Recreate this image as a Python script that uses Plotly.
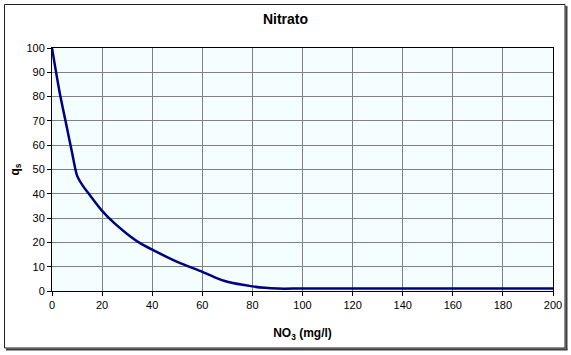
import plotly.graph_objects as go

# Data
no3 = [0, 3, 6, 8, 10, 12, 15, 20, 25, 30, 35, 40, 50, 60, 65, 70, 80, 85, 90, 100, 150, 200]
qs = [100, 82, 67, 57, 47.5, 43.8, 39.6, 33, 27.8, 23.5, 19.8, 17.0, 12, 7.9, 5.6, 3.8, 1.9, 1.3, 1.0, 1.0, 1.0, 1.0]
x_ticks = [0, 20, 40, 60, 80, 100, 120, 140, 160, 180, 200]
y_ticks = [0, 10, 20, 30, 40, 50, 60, 70, 80, 90, 100]

W, H = 571, 355
L, R, T, B = 52, 553, 48, 291  # plot area pixels

fig = go.Figure(go.Scatter(
    x=no3, y=qs, mode="lines",
    line=dict(color="#000080", width=2.5, shape="spline", smoothing=0.8),
    cliponaxis=False, hoverinfo="skip",
))

def px(xp):
    return (xp - L) / (R - L)

def py(yp):
    return (B - yp) / (B - T)

shapes = [
    # shadow (right and bottom)
    dict(type="line", xref="paper", yref="paper", layer="above",
         x0=px(566.5), x1=px(566.5), y0=py(6), y1=py(350),
         line=dict(color="#404040", width=2)),
    dict(type="line", xref="paper", yref="paper", layer="above",
         x0=px(6), x1=px(567.5), y0=py(349.5), y1=py(349.5),
         line=dict(color="#404040", width=2)),
    # border
    dict(type="rect", xref="paper", yref="paper", layer="above",
         x0=px(4.5), x1=px(565), y0=py(348), y1=py(4.5),
         line=dict(color="#202020", width=1)),
]

font = "Liberation Sans, Arial, sans-serif"
fig.update_layout(
    width=W, height=H,
    margin=dict(l=L, r=W - R, t=T, b=H - B),
    paper_bgcolor="white", plot_bgcolor="#F4FEFF",
    showlegend=False,
    font=dict(family=font, size=11, color="black"),
    title=dict(text="<b>Nitrato</b>", x=0.5, xref="container", xanchor="center",
               y=1 - 19 / H, yanchor="middle", font=dict(size=14, family=font, color="black")),
    shapes=shapes,
)
fig.update_xaxes(
    range=[0, 200], tickvals=x_ticks, ticktext=[str(v) for v in x_ticks],
    showgrid=True, gridcolor="#808080", gridwidth=1,
    showline=True, linecolor="black", linewidth=1, mirror=True,
    ticks="outside", ticklen=4, tickcolor="black", zeroline=False,
    automargin=False,
    tickfont=dict(size=11, family=font, color="black"),
    title=dict(text="<b>NO<sub>3</sub> (mg/l)</b>", standoff=18,
               font=dict(size=12, family=font, color="black")),
)
fig.update_yaxes(
    range=[0, 100], tickvals=y_ticks, ticktext=[str(v) for v in y_ticks],
    showgrid=True, gridcolor="#808080", gridwidth=1,
    showline=True, linecolor="black", linewidth=1, mirror=True,
    ticks="outside", ticklen=4, tickcolor="black", zeroline=False,
    automargin=False,
    tickfont=dict(size=11, family=font, color="black"),
    title=dict(text="<b>q<sub>s</sub></b>", standoff=4,
               font=dict(size=12, family=font, color="black")),
)

fig.write_html("out.html", config={"displayModeBar": False},
               post_script="document.body.style.margin='0';")
